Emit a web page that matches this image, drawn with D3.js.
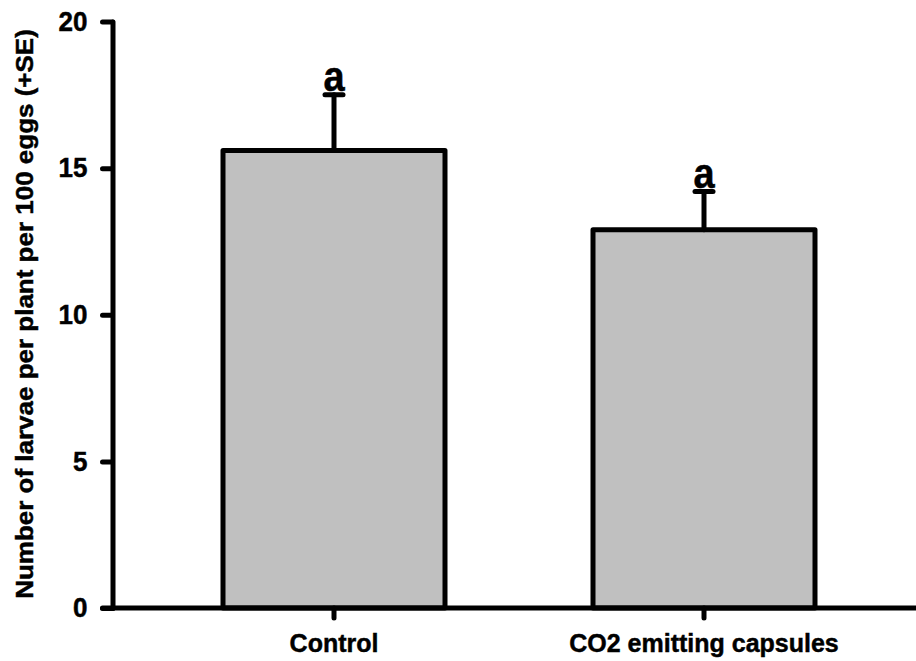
<!DOCTYPE html>
<html>
<head>
<meta charset="utf-8">
<script src="https://cdn.jsdelivr.net/npm/d3@7"></script>
<style>
  html, body { margin: 0; padding: 0; background: #fff; }
  svg { display: block; }
  text { font-family: "Liberation Sans", Arial, sans-serif; font-weight: bold; fill: #000; stroke: #000; stroke-width: 0.45px; }
</style>
</head>
<body>
<svg id="chart" width="916" height="661"></svg>
<script>
// Larval counts per plant (per 100 eggs), mean and standard error
const categories = ["Control", "CO2 emitting capsules"];
const means = [15.6, 12.9];
const errors = [1.9, 1.3];
const letters = ["a", "a"];
const yTicks = [0, 5, 10, 15, 20];
const yTitle = "Number of larvae per plant per 100 eggs (+SE)";

const W = 916, H = 661;
const axisX = 112.5, axisY = 608;
const stretch = 1.1; // text is slightly taller than wide

const svg = d3.select("#chart");

const y = d3.scaleLinear().domain([0, 20]).range([axisY, 21.5]);
const x = d3.scaleBand()
  .domain(categories)
  .range([149, 889])
  .paddingInner(0.4)
  .paddingOuter(0.2);

const lw = 5;

// bars
svg.append("g").selectAll("rect")
  .data(categories)
  .join("rect")
  .attr("x", d => x(d))
  .attr("y", (d, i) => y(means[i]))
  .attr("width", x.bandwidth())
  .attr("height", (d, i) => axisY - y(means[i]))
  .attr("fill", "#c0c0c0")
  .attr("stroke", "#000")
  .attr("stroke-width", lw)
  .attr("stroke-linejoin", "round");

// error bars (upper only)
const eb = svg.append("g")
  .attr("stroke", "#000")
  .attr("stroke-width", lw)
  .attr("stroke-linecap", "round");
categories.forEach((c, i) => {
  const cx = x(c) + x.bandwidth() / 2;
  eb.append("line")
    .attr("x1", cx).attr("x2", cx)
    .attr("y1", y(means[i])).attr("y2", y(means[i] + errors[i]));
  eb.append("line")
    .attr("x1", cx - 9).attr("x2", cx + 9)
    .attr("y1", y(means[i] + errors[i])).attr("y2", y(means[i] + errors[i]));
});

// significance letters
svg.append("g").selectAll("text")
  .data(categories)
  .join("text")
  .attr("text-anchor", "middle")
  .attr("font-size", 38)
  .attr("transform", (d, i) => {
    const cx = x(d) + x.bandwidth() / 2;
    return `translate(${cx},${y(means[i] + errors[i]) - 4}) scale(1,${stretch})`;
  })
  .text((d, i) => letters[i]);

// y axis
const yAxis = svg.append("g")
  .attr("transform", `translate(${axisX},0)`)
  .call(d3.axisLeft(y).tickValues(yTicks).tickFormat(d3.format("d"))
    .tickSize(10).tickSizeOuter(0).tickPadding(15));
yAxis.select(".domain").attr("stroke-width", lw).attr("stroke-linecap", "round");
yAxis.selectAll(".tick line").attr("stroke-width", lw).attr("stroke-linecap", "round");
yAxis.selectAll(".tick text")
  .attr("font-size", 26)
  .attr("font-family", null)
  .attr("transform", `scale(1,1.05)`);

// x axis
const xAxis = svg.append("g")
  .attr("transform", `translate(0,${axisY})`)
  .call(d3.axisBottom(x).tickSize(10).tickSizeOuter(0).tickPadding(14));
xAxis.select(".domain").remove();
xAxis.append("line")
  .attr("x1", axisX - 10).attr("x2", W)
  .attr("y1", 0).attr("y2", 0)
  .attr("stroke", "#000")
  .attr("stroke-width", lw)
  .attr("stroke-linecap", "round");
xAxis.selectAll(".tick line").attr("stroke-width", lw).attr("stroke-linecap", "round");
xAxis.selectAll(".tick text")
  .attr("font-size", 25)
  .attr("font-family", null)
  .attr("transform", `scale(1,1.05)`);
svg.selectAll(".domain, .tick line").attr("stroke", "#000");

// y axis title
svg.append("text")
  .attr("text-anchor", "middle")
  .attr("font-size", 23)
  .attr("transform", `translate(33,314) rotate(-90) scale(1.13,1)`)
  .text(yTitle);
</script>
</body>
</html>
